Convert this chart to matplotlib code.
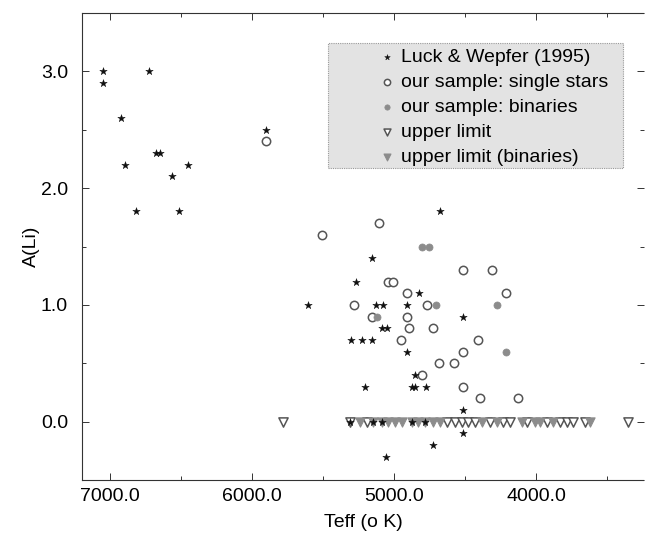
import matplotlib
matplotlib.use("Agg")
import matplotlib.pyplot as plt
from matplotlib.patches import Rectangle
from matplotlib.ticker import MultipleLocator, FormatStrFormatter

plt.rcParams['font.family'] = ['Liberation Sans', 'DejaVu Sans']

# Luck & Wepfer (1995)
luck_teff = [7045, 7045, 6720, 6920, 6895, 6676, 6643, 6446, 6563, 6815, 6514,
             5897, 4674, 5155, 5270, 4824, 5127, 5075, 4906, 5604, 4512,
             5087, 5051, 5305, 5225, 5157, 4906, 4852, 5202, 4875, 4850, 4775,
             4512, 4512, 4728, 5056,
             5310, 5146, 5087, 4875, 4782]
luck_ali = [3.0, 2.9, 3.0, 2.6, 2.2, 2.3, 2.3, 2.2, 2.1, 1.8, 1.8,
            2.5, 1.8, 1.4, 1.2, 1.1, 1.0, 1.0, 1.0, 1.0, 0.9,
            0.8, 0.8, 0.7, 0.7, 0.7, 0.6, 0.4, 0.3, 0.3, 0.3, 0.3,
            0.1, -0.1, -0.2, -0.3,
            0.0, 0.0, 0.0, 0.0, 0.0]

# our sample: single stars
single_teff = [5897, 5505, 5104, 4511, 4308, 4208, 5044, 5005, 4906, 5282,
               4770, 5157, 4906, 4892, 4728, 4953, 4406, 4512, 4681, 4578,
               4805, 4512, 4394, 4127]
single_ali = [2.4, 1.6, 1.7, 1.3, 1.3, 1.1, 1.2, 1.2, 1.1, 1.0,
              1.0, 0.9, 0.9, 0.8, 0.8, 0.7, 0.7, 0.6, 0.5, 0.5,
              0.4, 0.3, 0.2, 0.2]

# our sample: binaries
bin_teff = [4805, 4751, 4706, 4277, 5122, 4212]
bin_ali = [1.5, 1.5, 1.0, 1.0, 0.9, 0.6]

# upper limits (single)
ul_teff = [5784, 5310, 5192, 4629, 4570, 4523, 4477, 4430, 4324, 4230,
           4183, 4066, 3925, 3831, 3784, 3737, 3655, 3350]
ul_ali = [0.0, 0.0, 0.0, 0.0, 0.0, 0.0, 0.0, 0.0, 0.0, 0.0,
          0.0, 0.0, 0.0, 0.0, 0.0, 0.0, 0.0, 0.0]

# upper limits (binaries)
ulb_teff = [5240, 5146, 5087, 5040, 4993, 4946, 4875, 4829, 4782, 4723,
            4676, 4383, 4277, 4101, 4007, 3972, 3878, 3620]
ulb_ali = [0.0, 0.0, 0.0, 0.0, 0.0, 0.0, 0.0, 0.0, 0.0, 0.0,
           0.0, 0.0, 0.0, 0.0, 0.0, 0.0, 0.0, 0.0]

labels = ["Luck & Wepfer (1995)", "our sample: single stars",
          "our sample: binaries", "upper limit", "upper limit (binaries)"]

fig = plt.figure(figsize=(6.45, 5.33), dpi=100)
ax = fig.add_axes([82 / 645, 1 - 480 / 533, 562 / 645, 467 / 533])

h4 = ax.scatter(ul_teff, ul_ali, marker='v', s=44, facecolors='white',
                edgecolors='#555555', linewidths=1.1, zorder=2)
h5 = ax.scatter(ulb_teff, ulb_ali, marker='v', s=44, facecolors='#8c8c8c',
                edgecolors='#8c8c8c', linewidths=0.8, zorder=2)
h2 = ax.scatter(single_teff, single_ali, marker='o', s=36, facecolors='white',
                edgecolors='#555555', linewidths=1.1, zorder=3)
h3 = ax.scatter(bin_teff, bin_ali, marker='o', s=26, facecolors='#8c8c8c',
                edgecolors='#8c8c8c', linewidths=0.5, zorder=4)
h1 = ax.scatter(luck_teff, luck_ali, marker='*', s=32, color='#111111',
                linewidths=0.3, zorder=5)

ax.set_xlim(7195, 3240)
ax.set_ylim(-0.5, 3.5)

ax.xaxis.set_major_locator(MultipleLocator(1000))
ax.xaxis.set_minor_locator(MultipleLocator(500))
ax.yaxis.set_major_locator(MultipleLocator(1.0))
ax.yaxis.set_minor_locator(MultipleLocator(0.5))
ax.xaxis.set_major_formatter(FormatStrFormatter('%.1f'))
ax.yaxis.set_major_formatter(FormatStrFormatter('%.1f'))

ax.tick_params(which='both', direction='in', top=True, right=True,
               labelsize=14, color='#333333', width=0.7)
ax.tick_params(which='major', length=5)
ax.tick_params(which='minor', length=3)
ax.tick_params(axis='y', which='major', pad=10)
ax.tick_params(axis='x', which='major', pad=6)

for side in ['top', 'bottom', 'left']:
    ax.spines[side].set_linewidth(0.8)
    ax.spines[side].set_color('#333333')
ax.spines['top'].set_linestyle((0, (1, 1)))
ax.spines['bottom'].set_linestyle((0, (1, 1)))
ax.spines['right'].set_visible(False)

ax.set_xlabel("Teff (o K)", fontsize=14, labelpad=6)
ax.set_ylabel("A(Li)", fontsize=14, labelpad=1)

# legend box (light grey, dotted edge)
box = Rectangle((328 / 645, 1 - 168 / 533), 295 / 645, 125 / 533,
                transform=fig.transFigure, facecolor='#e3e3e3',
                edgecolor='#999999', linestyle=(0, (1, 1)), linewidth=0.8,
                zorder=1)
ax.add_artist(box)

leg = ax.legend([h1, h2, h3, h4, h5], labels, loc='upper left',
                bbox_to_anchor=(368 / 645, 1 - 35 / 533),
                bbox_transform=fig.transFigure, frameon=False, fontsize=14,
                handlelength=0.6, handletextpad=0.4, labelspacing=0.38,
                borderpad=0.2, scatterpoints=1, markerscale=0.75)
leg.set_zorder(10)

fig.savefig("out.png", dpi=100)
